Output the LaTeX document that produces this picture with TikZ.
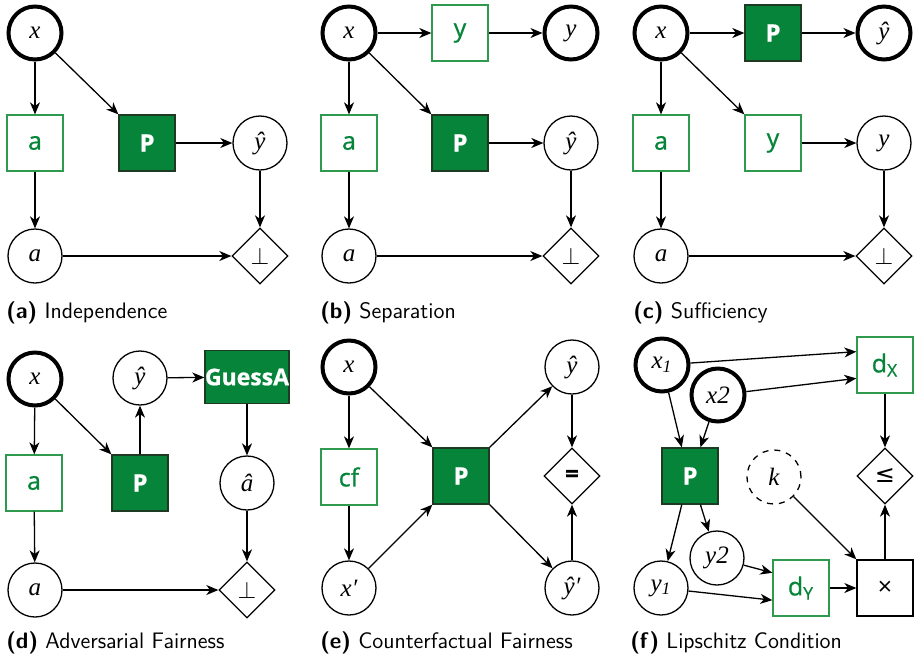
\documentclass[tikz,border=0pt]{standalone}
\usepackage{fontspec}
\usepackage{tikz}
\usetikzlibrary{arrows.meta,shapes.geometric}
\newfontfamily\labfont[FakeBold=0.8]{Open Sans}
\newfontfamily\plainfont{Open Sans}
\newfontfamily\varfont{Liberation Serif}
\newfontfamily\relfont{DejaVu Sans}
\definecolor{pgreen}{HTML}{06853A}
\definecolor{pedge}{HTML}{1E3A22}
\definecolor{fgreen}{HTML}{2F9A4E}
\newcommand{\subcap}[2]{\textbf{(#1)}~#2}
\tikzset{
  var/.style={circle, draw, line width=0.65pt, minimum size=27pt, inner sep=0pt,
              font=\varfont\itshape\fontsize{12.5}{12.5}\selectfont},
  obs/.style={var, line width=2pt, minimum size=26.5pt},
  hid/.style={var, dashed},
  func/.style={rectangle, draw=fgreen, line width=0.65pt, minimum size=28pt, inner sep=0pt,
               text=pgreen, font=\labfont\fontsize{12.5}{12.5}\selectfont},
  model/.style={func, draw=pedge, fill=pgreen, text=white,
                font=\labfont\bfseries\fontsize{12}{12}\selectfont},
  op/.style={func, draw=black, text=black, font=\plainfont\fontsize{12.5}{12.5}\selectfont},
  test/.style={diamond, draw, line width=0.65pt, minimum size=28pt, inner sep=0pt,
               font=\labfont\fontsize{12}{12}\selectfont},
  flow/.style={-{Stealth[length=6pt,width=5pt,inset=1.8pt]}, line width=0.65pt},
  capt/.style={anchor=base west, inner sep=0pt, font=\sffamily\fontsize{11.2}{13}\selectfont},
}

\begin{document}
\begin{tikzpicture}[x=0.5pt, y=-0.5pt]
  \useasboundingbox (0,0) rectangle (918,661);

  % (a) independence
  \node[obs]   (xa)    at (35,33)   {x};
  \node[func]  (aboxa) at (35,143)  {a};
  \node[model] (Pa)    at (147,143) {P};
  \node[var]   (yhata) at (260,143) {ŷ};
  \node[var]   (acira) at (35,256)  {a};
  \node[test]  (inda)  at (260,256) {$\perp$};
  \draw[flow] (xa) -- (aboxa);
  \draw[flow] (xa) -- (Pa.north west);
  \draw[flow] (Pa) -- (yhata);
  \draw[flow] (yhata) -- (inda);
  \draw[flow] (aboxa) -- (acira);
  \draw[flow] (acira) -- (inda);
  \node[capt] (capa) at (6,318) {\subcap{a}{Independence}};

  % (b) separation
  \node[obs]   (xb)    at (349,33)  {x};
  \node[func]  (yboxb) at (460,33)  {y};
  \node[obs]   (ycirb) at (571,33)  {y};
  \node[func]  (aboxb) at (349,143) {a};
  \node[model] (Pb)    at (460,143) {P};
  \node[var]   (yhatb) at (571,143) {ŷ};
  \node[var]   (acirb) at (349,256) {a};
  \node[test]  (indb)  at (571,256) {$\perp$};
  \draw[flow] (xb) -- (yboxb);
  \draw[flow] (yboxb) -- (ycirb);
  \draw[flow] (xb) -- (aboxb);
  \draw[flow] (xb) -- (Pb.north west);
  \draw[flow] (Pb) -- (yhatb);
  \draw[flow] (yhatb) -- (indb);
  \draw[flow] (aboxb) -- (acirb);
  \draw[flow] (acirb) -- (indb);
  \node[capt] (capb) at (320,318) {\subcap{b}{Separation}};

  % (c) sufficiency
  \node[obs]   (xc)    at (661,33)  {x};
  \node[model] (Pc)    at (773,33)  {P};
  \node[obs]   (yhatc) at (884,33)  {ŷ};
  \node[func]  (aboxc) at (661,143) {a};
  \node[func]  (yboxc) at (773,143) {y};
  \node[var]   (ycirc) at (884,143) {y};
  \node[var]   (acirc) at (661,256) {a};
  \node[test]  (indc)  at (884,256) {$\perp$};
  \draw[flow] (xc) -- (Pc);
  \draw[flow] (Pc) -- (yhatc);
  \draw[flow] (xc) -- (aboxc);
  \draw[flow] (xc) -- (yboxc.north west);
  \draw[flow] (yboxc) -- (ycirc);
  \draw[flow] (ycirc) -- (indc);
  \draw[flow] (aboxc) -- (acirc);
  \draw[flow] (acirc) -- (indc);
  \node[capt] (capc) at (633,318) {\subcap{c}{Sufficiency}};

  % (d) adversarial fairness
  \node[obs]   (xd)     at (35,379)  {x};
  \node[func]  (aboxd)  at (34,483)  {a};
  \node[var]   (acird)  at (35,590)  {a};
  \node[model] (Pd)     at (140,483) {P};
  \node[var]   (yhatd)  at (140,378) {ŷ};
  \node[model, minimum width=40pt, minimum height=26.5pt,
        font=\labfont\bfseries\fontsize{11.5}{11.5}\selectfont] (guessd) at (247,377) {GuessA};
  \node[var]   (ahatd)  at (247,483) {â};
  \node[test]  (indd)   at (247,590) {$\perp$};
  \draw[flow] (xd) -- (aboxd);
  \draw[flow] (xd) -- (Pd.north west);
  \draw[flow] (Pd) -- (yhatd);
  \draw[flow] (yhatd) -- (guessd);
  \draw[flow] (guessd) -- (ahatd);
  \draw[flow] (ahatd) -- (indd);
  \draw[flow] (aboxd) -- (acird);
  \draw[flow] (acird) -- (indd);
  \node[capt] (capd) at (6,648) {\subcap{d}{Adversarial Fairness}};

  % (e) counterfactual fairness
  \node[obs]   (xe)     at (349,367) {x};
  \node[func]  (cfe)    at (349,477) {cf};
  \node[var]   (xpe)    at (349,588) {x′};
  \node[model] (Pe)     at (461,476) {P};
  \node[var]   (yhate)  at (572,367) {ŷ};
  \node[test]  (eqe)    at (572,476) {\textbf{=}};
  \node[var]   (yhatpe) at (572,588) {ŷ′};
  \draw[flow] (xe) -- (cfe);
  \draw[flow] (cfe) -- (xpe);
  \draw[flow] (xe) -- (Pe.north west);
  \draw[flow] (xpe) -- (Pe.south west);
  \draw[flow] (Pe.north east) -- (yhate);
  \draw[flow] (Pe.south east) -- (yhatpe);
  \draw[flow] (yhate) -- (eqe);
  \draw[flow] (yhatpe) -- (eqe);
  \node[capt] (cape) at (320,648) {\subcap{e}{Counterfactual Fairness}};

  % (f) lipschitz condition
  \node[obs]   (x1f)  at (662,365) {x\textsubscript{1}};
  \node[obs]   (x2f)  at (718,395) {x2};
  \node[func]  (dxf)  at (885,365) {d\textsubscript{X}};
  \node[model] (Pf)   at (690,476) {P};
  \node[hid]   (kf)   at (774,477) {k};
  \node[test]  (leqf) at (885,476) {\relfont ≤};
  \node[var]   (y1f)  at (661,588) {y\textsubscript{1}};
  \node[var]   (y2f)  at (717,558) {y2};
  \node[func]  (dyf)  at (801,588) {d\textsubscript{Y}};
  \node[op]    (mulf) at (885,588) {×};
  \draw[flow] (x1f) -- (dxf.155);
  \draw[flow] (x2f) -- (dxf.205);
  \draw[flow] (x1f) -- (Pf.106);
  \draw[flow] (x2f) -- (Pf.70);
  \draw[flow] (Pf.254) -- (y1f);
  \draw[flow] (Pf.290) -- (y2f);
  \draw[flow] (y2f) -- (dyf.152);
  \draw[flow] (y1f) -- (dyf.203);
  \draw[flow] (dyf) -- (mulf);
  \draw[flow] (kf) -- (mulf.north west);
  \draw[flow] (mulf) -- (leqf);
  \draw[flow] (dxf) -- (leqf);
  \node[capt] (capf) at (630,648) {\subcap{f}{Lipschitz Condition}};
\end{tikzpicture}
\end{document}
